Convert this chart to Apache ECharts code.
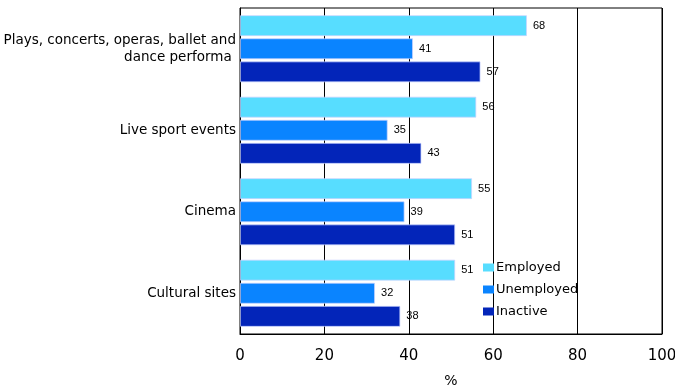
<!DOCTYPE html>
<html>
<head>
<meta charset="utf-8">
<script src="https://cdn.jsdelivr.net/npm/echarts@6/dist/echarts.min.js"></script>
<style>
  html, body { margin: 0; padding: 0; background: #fff; }
  #chart { width: 675px; height: 390px; }
</style>
</head>
<body>
<div id="chart"></div>
<script>
// Participation in cultural events by labour market status (%)
const categories = [
  'Plays, concerts, operas, ballet and\ndance performa ',
  'Live sport events',
  'Cinema',
  'Cultural sites'
];
const employed   = [68, 56, 55, 51];
const unemployed = [41, 35, 39, 32];
const inactive   = [57, 43, 51, 38];
const seriesNames = ['Employed', 'Unemployed', 'Inactive'];
const colors = ['#57DDFF', '#0A84FF', '#0325B9'];
const xTicks = [0, 20, 40, 60, 80, 100];

const FONT = 'DejaVu Sans';

function barSeries(name, data, color) {
  return {
    name: name,
    type: 'bar',
    data: data,
    barWidth: 21,
    barGap: '10%',
    itemStyle: { color: color, borderColor: 'rgba(200,210,255,0.7)', borderWidth: 1 },
    label: {
      show: true,
      position: 'right',
      distance: 6,
      color: '#000',
      fontFamily: 'Liberation Sans',
      fontSize: 11
    },
    z: 3
  };
}

const chart = echarts.init(document.getElementById('chart'), null, { renderer: 'canvas' });
chart.setOption({
  animation: false,
  backgroundColor: '#fff',
  grid: {
    left: 240, right: 13, top: 8, bottom: 56,
    containLabel: false,
    outerBoundsMode: 'none',
    show: true, borderColor: '#000', borderWidth: 1, backgroundColor: 'transparent'
  },
  legend: {
    data: seriesNames,
    orient: 'vertical',
    left: 478,
    top: 256,
    itemWidth: 11,
    itemHeight: 8,
    itemGap: 9,
    icon: 'rect',
    itemStyle: { borderWidth: 0 },
    textStyle: { fontFamily: FONT, fontSize: 13, color: '#000', padding: [0, 0, 0, -3] }
  },
  xAxis: {
    type: 'value',
    min: xTicks[0],
    max: xTicks[xTicks.length - 1],
    interval: 20,
    name: '%',
    nameLocation: 'middle',
    nameGap: 40,
    nameTextStyle: { fontFamily: FONT, fontSize: 14, color: '#000' },
    axisLine: { show: true, lineStyle: { color: '#000' } },
    axisTick: { show: false },
    axisLabel: { fontFamily: FONT, fontSize: 15, color: '#000', margin: 15 },
    splitLine: { show: true, lineStyle: { color: '#000', width: 1 } }
  },
  yAxis: {
    type: 'category',
    data: categories,
    inverse: true,
    axisLine: { show: true, lineStyle: { color: '#000' } },
    axisTick: { show: false },
    axisLabel: {
      fontFamily: FONT, fontSize: 13.5, color: '#000', margin: 4,
      lineHeight: 17, padding: [5, 0, 0, 0]
    }
  },
  series: [
    barSeries(seriesNames[0], employed, colors[0]),
    barSeries(seriesNames[1], unemployed, colors[1]),
    barSeries(seriesNames[2], inactive, colors[2])
  ]
});
</script>
</body>
</html>
